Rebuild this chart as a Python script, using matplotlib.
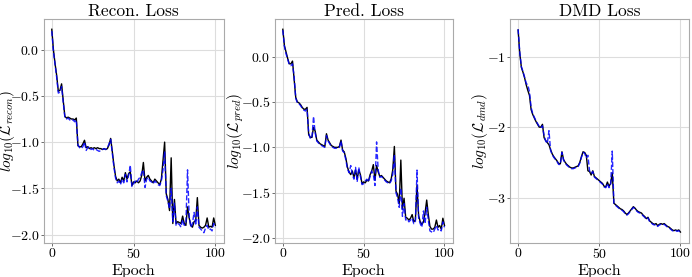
import numpy as np
import matplotlib
matplotlib.use('Agg')
import matplotlib.pyplot as plt

# Datos (log10 de las pérdidas por época)
epochs = np.arange(101)

recon_true = [0.22, 0.0, -0.15, -0.28, -0.45, -0.44, -0.37, -0.55, -0.72, -0.74,
              -0.73, -0.74, -0.75, -0.75, -0.76, -0.74, -1.04, -1.05, -1.05, -1.02,
              -0.98, -1.06, -1.05, -1.07, -1.06, -1.07, -1.06, -1.07, -1.06, -1.07,
              -1.07, -1.08, -1.07, -1.08, -1.07, -1.03, -0.96, -1.10, -1.25, -1.37,
              -1.42, -1.40, -1.44, -1.38, -1.42, -1.33, -1.40, -1.34, -1.32, -1.47,
              -1.43, -1.44, -1.42, -1.44, -1.42, -1.36, -1.22, -1.42, -1.38, -1.36,
              -1.40, -1.42, -1.44, -1.40, -1.42, -1.44, -1.46, -1.40, -1.20, -1.00,
              -1.56, -1.62, -1.74, -1.17, -1.88, -1.62, -1.88, -1.86, -1.87, -1.88,
              -1.80, -1.88, -1.90, -1.70, -1.82, -1.90, -1.92, -1.86, -1.85, -1.60,
              -1.90, -1.92, -1.93, -1.92, -1.90, -1.82, -1.92, -1.91, -1.92, -1.82,
              -1.90]
recon_pred = [0.20, -0.02, -0.16, -0.30, -0.47, -0.46, -0.40, -0.57, -0.73, -0.75,
              -0.74, -0.76, -0.77, -0.76, -0.78, -0.76, -1.03, -1.06, -1.07, -1.05,
              -1.00, -1.09, -1.06, -1.05, -1.08, -1.07, -1.09, -1.08, -1.09, -1.10,
              -1.09, -1.08, -1.07, -1.08, -1.06, -1.02, -0.97, -1.12, -1.27, -1.39,
              -1.44, -1.42, -1.46, -1.40, -1.44, -1.35, -1.43, -1.36, -1.25, -1.48,
              -1.45, -1.42, -1.44, -1.40, -1.38, -1.33, -1.30, -1.49, -1.40, -1.38,
              -1.42, -1.43, -1.45, -1.42, -1.44, -1.46, -1.47, -1.42, -1.30, -1.10,
              -1.58, -1.64, -1.72, -1.50, -1.86, -1.66, -1.90, -1.88, -1.89, -1.92,
              -1.84, -1.90, -1.88, -1.30, -1.80, -1.92, -1.88, -1.76, -1.90, -1.70,
              -1.92, -1.94, -1.96, -1.98, -1.93, -1.90, -1.95, -1.94, -1.96, -1.88,
              -1.92]

pred_true = [0.30, 0.12, 0.05, -0.02, -0.08, -0.08, -0.05, -0.25, -0.45, -0.50,
             -0.51, -0.53, -0.56, -0.58, -0.58, -0.56, -0.86, -0.89, -0.89, -0.78,
             -0.82, -0.92, -0.94, -0.96, -0.97, -0.98, -0.99, -0.85, -0.92, -0.95,
             -0.98, -0.99, -1.00, -1.00, -1.00, -0.99, -0.92, -1.03, -1.05, -1.12,
             -1.22, -1.27, -1.30, -1.26, -1.33, -1.25, -1.35, -1.25, -1.30, -1.40,
             -1.38, -1.39, -1.36, -1.37, -1.30, -1.26, -1.19, -1.36, -1.20, -1.27,
             -1.32, -1.31, -1.33, -1.35, -1.37, -1.38, -1.39, -1.35, -1.25, -0.99,
             -1.48, -1.52, -1.62, -1.14, -1.68, -1.56, -1.77, -1.78, -1.80, -1.78,
             -1.74, -1.82, -1.80, -1.42, -1.75, -1.82, -1.85, -1.82, -1.72, -1.58,
             -1.74, -1.87, -1.90, -1.90, -1.88, -1.80, -1.88, -1.86, -1.90, -1.78,
             -1.86]
pred_pred = [0.29, 0.11, 0.03, -0.03, -0.09, -0.10, -0.08, -0.22, -0.46, -0.51,
             -0.52, -0.54, -0.57, -0.59, -0.60, -0.58, -0.84, -0.90, -0.90, -0.66,
             -0.84, -0.93, -0.95, -0.97, -0.98, -0.99, -1.00, -0.87, -0.93, -0.96,
             -0.99, -1.00, -1.01, -1.01, -1.00, -1.00, -0.93, -1.04, -1.06, -1.14,
             -1.24, -1.28, -1.20, -1.30, -1.35, -1.22, -1.38, -1.22, -1.32, -1.41,
             -1.40, -1.37, -1.35, -1.38, -1.32, -1.26, -1.30, -1.42, -0.94, -1.25,
             -1.33, -1.32, -1.34, -1.36, -1.38, -1.39, -1.40, -1.37, -1.30, -1.08,
             -1.50, -1.56, -1.66, -1.45, -1.76, -1.62, -1.80, -1.79, -1.82, -1.80,
             -1.78, -1.84, -1.82, -1.25, -1.78, -1.84, -1.88, -1.70, -1.84, -1.66,
             -1.80, -1.92, -1.93, -1.94, -1.90, -1.86, -1.91, -1.90, -1.92, -1.82,
             -1.88]

dmd_true = [-0.62, -0.95, -1.15, -1.22, -1.30, -1.40, -1.48, -1.55, -1.75, -1.82,
            -1.87, -1.92, -1.96, -2.00, -2.00, -1.96, -2.15, -2.19, -2.22, -2.25,
            -2.32, -2.38, -2.42, -2.45, -2.48, -2.52, -2.52, -2.35, -2.46, -2.50,
            -2.53, -2.55, -2.57, -2.58, -2.58, -2.57, -2.56, -2.55, -2.50, -2.42,
            -2.35, -2.36, -2.40, -2.62, -2.63, -2.68, -2.62, -2.70, -2.72, -2.74,
            -2.76, -2.78, -2.80, -2.84, -2.85, -2.78, -2.84, -2.80, -2.65, -3.08,
            -3.10, -3.12, -3.14, -3.16, -3.17, -3.19, -3.22, -3.24, -3.22, -3.19,
            -3.16, -3.13, -3.15, -3.18, -3.20, -3.21, -3.22, -3.25, -3.27, -3.30,
            -3.28, -3.33, -3.35, -3.37, -3.38, -3.37, -3.40, -3.38, -3.37, -3.38,
            -3.37, -3.39, -3.41, -3.42, -3.44, -3.46, -3.47, -3.46, -3.47, -3.46,
            -3.49]
dmd_pred = [-0.61, -0.93, -1.14, -1.21, -1.29, -1.38, -1.40, -1.50, -1.72, -1.81,
            -1.86, -1.91, -1.95, -1.99, -2.01, -1.98, -2.12, -2.20, -2.23, -2.05,
            -2.33, -2.39, -2.43, -2.46, -2.49, -2.53, -2.53, -2.36, -2.47, -2.51,
            -2.54, -2.56, -2.58, -2.59, -2.59, -2.58, -2.57, -2.56, -2.51, -2.43,
            -2.36, -2.37, -2.44, -2.40, -2.62, -2.66, -2.63, -2.71, -2.73, -2.75,
            -2.77, -2.79, -2.81, -2.85, -2.86, -2.80, -2.86, -2.82, -2.34, -3.08,
            -3.11, -3.13, -3.15, -3.17, -3.18, -3.20, -3.23, -3.25, -3.23, -3.20,
            -3.17, -3.14, -3.16, -3.19, -3.21, -3.22, -3.23, -3.26, -3.28, -3.31,
            -3.29, -3.34, -3.36, -3.38, -3.39, -3.38, -3.41, -3.39, -3.38, -3.39,
            -3.38, -3.40, -3.42, -3.43, -3.45, -3.47, -3.48, -3.47, -3.48, -3.47,
            -3.50]

titles = ['Recon. Loss', 'Pred. Loss', 'DMD Loss']
ylabels = [r'$log_{10}(\mathcal{L}_{recon})$',
           r'$log_{10}(\mathcal{L}_{pred})$',
           r'$log_{10}(\mathcal{L}_{dmd})$']
series = [(recon_true, recon_pred), (pred_true, pred_pred), (dmd_true, dmd_pred)]

# Estilo tipo LaTeX (Computer Modern)
plt.rcParams['font.family'] = 'serif'
plt.rcParams['font.serif'] = ['cmr10', 'DejaVu Serif']
plt.rcParams['mathtext.fontset'] = 'cm'
plt.rcParams['axes.formatter.use_mathtext'] = True
plt.rcParams['axes.unicode_minus'] = True

fig = plt.figure(figsize=(6.92, 2.77), dpi=100)
rects = [[0.063, 0.123, 0.260, 0.808],
         [0.397, 0.123, 0.257, 0.808],
         [0.737, 0.123, 0.258, 0.808]]
# borde derecho de la etiqueta y (coordenadas de ejes)
ylabel_x = [-0.15, -0.16, -0.11]

for i in range(3):
    ax = fig.add_axes(rects[i])
    y_true, y_pred = series[i]
    ax.plot(epochs, y_true, color='black', linewidth=1.0)
    ax.plot(epochs, y_pred, color='blue', linestyle='--', linewidth=1.0, alpha=0.85)
    ax.set_title(titles[i], fontsize=12.5, pad=2)
    ax.set_xlabel('Epoch', fontsize=11.5)
    ax.set_ylabel(ylabels[i], fontsize=11)
    ax.xaxis.set_label_coords(0.5, -0.095)
    ax.yaxis.set_label_coords(ylabel_x[i], 0.5)
    ax.grid(True, color='#dddddd', linewidth=0.8)
    ax.set_axisbelow(True)
    for s in ax.spines.values():
        s.set_color('#aaaaaa')
        s.set_linewidth(0.8)
    ax.tick_params(labelsize=10, length=2.5, width=0.6, color='#555555', pad=0.5)
    ax.set_xticks([0, 50, 100])
    if i == 2:
        ax.set_yticks([-1, -2, -3])

fig.savefig('out.png', dpi=100)
